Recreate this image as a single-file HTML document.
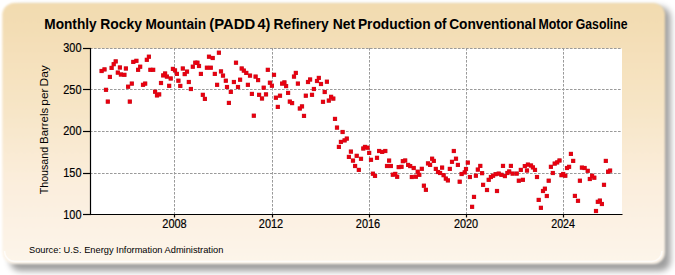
<!DOCTYPE html>
<html><head><meta charset="utf-8"><style>
html,body{margin:0;padding:0;background:#fff;}
body{width:675px;height:275px;position:relative;overflow:hidden;}
svg{position:absolute;left:0;top:0;}
text{font-family:"Liberation Sans",sans-serif;fill:#000;}
</style></head><body>
<svg width="675" height="275" viewBox="0 0 675 275">
<defs><filter id="f1" x="-10%" y="-10%" width="120%" height="120%"><feGaussianBlur stdDeviation="3.2"/></filter>
<filter id="f2" x="-10%" y="-10%" width="120%" height="120%"><feGaussianBlur stdDeviation="1"/></filter>
<filter id="f3" filterUnits="userSpaceOnUse" x="0" y="0" width="675" height="275"><feGaussianBlur stdDeviation="0.6"/></filter>
<linearGradient id="g" x1="0" y1="0" x2="0" y2="1"><stop offset="0" stop-color="#F2DBAF"/><stop offset="0.4" stop-color="#F7E5C6"/><stop offset="0.7" stop-color="#FBEEDD"/><stop offset="1" stop-color="#FDF5EA"/></linearGradient></defs>
<rect x="10" y="7" width="660.5" height="264" rx="10" fill="#000" fill-opacity="0.38" filter="url(#f1)"/>
<rect x="2.3" y="3" width="662.7" height="261" rx="12" fill="url(#g)" filter="url(#f2)"/>
<path d="M4.5 251 A10.5 10.5 0 0 0 15 261.5 H652 A10.5 10.5 0 0 0 662 251" fill="none" stroke="#fff" stroke-width="1.5" stroke-opacity="0.7" filter="url(#f3)"/>
<rect x="90.5" y="48.5" width="531.5" height="166" fill="#fff"/>
<g stroke="#9a9a9a" stroke-width="1" stroke-dasharray="2.6,1.4" fill="none"><line x1="90" y1="48.5" x2="622" y2="48.5"/><line x1="90" y1="89.5" x2="622" y2="89.5"/><line x1="90" y1="131.5" x2="622" y2="131.5"/><line x1="90" y1="173.5" x2="622" y2="173.5"/><line x1="174.5" y1="48" x2="174.5" y2="214"/><line x1="272.5" y1="48" x2="272.5" y2="214"/><line x1="369.5" y1="48" x2="369.5" y2="214"/><line x1="466.5" y1="48" x2="466.5" y2="214"/><line x1="563.5" y1="48" x2="563.5" y2="214"/></g>
<g fill="#B0000E" fill-opacity="0.85"><rect x="99.5" y="68.9" width="4.2" height="4.2"/><rect x="102.4" y="67.3" width="4.2" height="4.2"/><rect x="103.9" y="87.7" width="4.2" height="4.2"/><rect x="105.7" y="99.5" width="4.2" height="4.2"/><rect x="107.8" y="74.8" width="4.2" height="4.2"/><rect x="109.5" y="65.8" width="4.2" height="4.2"/><rect x="111.6" y="62.1" width="4.2" height="4.2"/><rect x="113.6" y="59.3" width="4.2" height="4.2"/><rect x="115.7" y="70.5" width="4.2" height="4.2"/><rect x="117.8" y="65.4" width="4.2" height="4.2"/><rect x="118.8" y="72.4" width="4.2" height="4.2"/><rect x="122.3" y="72.7" width="4.2" height="4.2"/><rect x="123.8" y="66.4" width="4.2" height="4.2"/><rect x="126.0" y="84.6" width="4.2" height="4.2"/><rect x="127.7" y="99.5" width="4.2" height="4.2"/><rect x="129.7" y="81.5" width="4.2" height="4.2"/><rect x="131.2" y="59.8" width="4.2" height="4.2"/><rect x="134.3" y="58.7" width="4.2" height="4.2"/><rect x="136.0" y="67.7" width="4.2" height="4.2"/><rect x="138.1" y="64.6" width="4.2" height="4.2"/><rect x="140.9" y="82.7" width="4.2" height="4.2"/><rect x="143.1" y="81.5" width="4.2" height="4.2"/><rect x="144.7" y="57.7" width="4.2" height="4.2"/><rect x="146.8" y="54.6" width="4.2" height="4.2"/><rect x="148.3" y="67.7" width="4.2" height="4.2"/><rect x="151.1" y="67.7" width="4.2" height="4.2"/><rect x="153.0" y="89.6" width="4.2" height="4.2"/><rect x="154.9" y="93.3" width="4.2" height="4.2"/><rect x="157.1" y="92.3" width="4.2" height="4.2"/><rect x="158.9" y="80.9" width="4.2" height="4.2"/><rect x="161.1" y="73.3" width="4.2" height="4.2"/><rect x="163.0" y="71.4" width="4.2" height="4.2"/><rect x="164.8" y="74.5" width="4.2" height="4.2"/><rect x="167.1" y="83.7" width="4.2" height="4.2"/><rect x="168.6" y="76.4" width="4.2" height="4.2"/><rect x="170.8" y="66.8" width="4.2" height="4.2"/><rect x="172.9" y="68.3" width="4.2" height="4.2"/><rect x="174.8" y="71.8" width="4.2" height="4.2"/><rect x="176.3" y="78.6" width="4.2" height="4.2"/><rect x="178.2" y="83.8" width="4.2" height="4.2"/><rect x="180.7" y="66.4" width="4.2" height="4.2"/><rect x="182.6" y="72.0" width="4.2" height="4.2"/><rect x="184.9" y="69.5" width="4.2" height="4.2"/><rect x="186.7" y="79.9" width="4.2" height="4.2"/><rect x="188.8" y="86.9" width="4.2" height="4.2"/><rect x="190.7" y="64.6" width="4.2" height="4.2"/><rect x="193.2" y="60.6" width="4.2" height="4.2"/><rect x="195.3" y="60.6" width="4.2" height="4.2"/><rect x="196.9" y="63.9" width="4.2" height="4.2"/><rect x="198.8" y="71.8" width="4.2" height="4.2"/><rect x="200.7" y="92.7" width="4.2" height="4.2"/><rect x="202.8" y="96.8" width="4.2" height="4.2"/><rect x="204.8" y="65.6" width="4.2" height="4.2"/><rect x="206.9" y="54.6" width="4.2" height="4.2"/><rect x="208.7" y="65.6" width="4.2" height="4.2"/><rect x="210.6" y="55.9" width="4.2" height="4.2"/><rect x="212.7" y="71.8" width="4.2" height="4.2"/><rect x="215.0" y="82.7" width="4.2" height="4.2"/><rect x="216.8" y="50.6" width="4.2" height="4.2"/><rect x="218.9" y="69.3" width="4.2" height="4.2"/><rect x="220.9" y="73.5" width="4.2" height="4.2"/><rect x="223.7" y="78.6" width="4.2" height="4.2"/><rect x="224.9" y="84.9" width="4.2" height="4.2"/><rect x="226.8" y="100.8" width="4.2" height="4.2"/><rect x="228.7" y="89.8" width="4.2" height="4.2"/><rect x="231.8" y="79.9" width="4.2" height="4.2"/><rect x="233.9" y="60.6" width="4.2" height="4.2"/><rect x="235.9" y="84.9" width="4.2" height="4.2"/><rect x="238.0" y="77.6" width="4.2" height="4.2"/><rect x="239.6" y="66.4" width="4.2" height="4.2"/><rect x="241.7" y="68.5" width="4.2" height="4.2"/><rect x="244.2" y="70.8" width="4.2" height="4.2"/><rect x="245.8" y="82.7" width="4.2" height="4.2"/><rect x="247.9" y="73.5" width="4.2" height="4.2"/><rect x="249.8" y="91.8" width="4.2" height="4.2"/><rect x="251.7" y="113.6" width="4.2" height="4.2"/><rect x="253.5" y="74.5" width="4.2" height="4.2"/><rect x="256.0" y="78.0" width="4.2" height="4.2"/><rect x="257.0" y="92.7" width="4.2" height="4.2"/><rect x="259.9" y="96.4" width="4.2" height="4.2"/><rect x="261.6" y="85.6" width="4.2" height="4.2"/><rect x="263.9" y="92.3" width="4.2" height="4.2"/><rect x="265.7" y="67.7" width="4.2" height="4.2"/><rect x="267.8" y="80.6" width="4.2" height="4.2"/><rect x="269.8" y="83.6" width="4.2" height="4.2"/><rect x="271.9" y="72.7" width="4.2" height="4.2"/><rect x="273.8" y="95.6" width="4.2" height="4.2"/><rect x="275.7" y="104.8" width="4.2" height="4.2"/><rect x="277.9" y="93.6" width="4.2" height="4.2"/><rect x="280.0" y="81.5" width="4.2" height="4.2"/><rect x="282.3" y="80.3" width="4.2" height="4.2"/><rect x="284.0" y="84.0" width="4.2" height="4.2"/><rect x="286.0" y="90.8" width="4.2" height="4.2"/><rect x="287.7" y="99.5" width="4.2" height="4.2"/><rect x="290.0" y="101.0" width="4.2" height="4.2"/><rect x="291.9" y="74.5" width="4.2" height="4.2"/><rect x="293.7" y="70.8" width="4.2" height="4.2"/><rect x="295.8" y="81.5" width="4.2" height="4.2"/><rect x="297.7" y="106.4" width="4.2" height="4.2"/><rect x="299.9" y="104.3" width="4.2" height="4.2"/><rect x="301.9" y="113.8" width="4.2" height="4.2"/><rect x="303.7" y="93.6" width="4.2" height="4.2"/><rect x="305.9" y="79.9" width="4.2" height="4.2"/><rect x="308.0" y="77.4" width="4.2" height="4.2"/><rect x="309.9" y="92.7" width="4.2" height="4.2"/><rect x="311.8" y="86.9" width="4.2" height="4.2"/><rect x="314.9" y="78.9" width="4.2" height="4.2"/><rect x="316.7" y="75.8" width="4.2" height="4.2"/><rect x="318.9" y="81.9" width="4.2" height="4.2"/><rect x="320.9" y="99.7" width="4.2" height="4.2"/><rect x="322.6" y="89.9" width="4.2" height="4.2"/><rect x="324.8" y="79.6" width="4.2" height="4.2"/><rect x="326.7" y="98.5" width="4.2" height="4.2"/><rect x="329.0" y="94.7" width="4.2" height="4.2"/><rect x="331.2" y="96.5" width="4.2" height="4.2"/><rect x="332.9" y="116.8" width="4.2" height="4.2"/><rect x="334.9" y="125.5" width="4.2" height="4.2"/><rect x="336.8" y="144.8" width="4.2" height="4.2"/><rect x="338.8" y="139.8" width="4.2" height="4.2"/><rect x="340.5" y="129.9" width="4.2" height="4.2"/><rect x="342.5" y="138.3" width="4.2" height="4.2"/><rect x="344.7" y="136.5" width="4.2" height="4.2"/><rect x="346.8" y="154.8" width="4.2" height="4.2"/><rect x="348.8" y="149.5" width="4.2" height="4.2"/><rect x="350.9" y="158.5" width="4.2" height="4.2"/><rect x="353.0" y="163.9" width="4.2" height="4.2"/><rect x="354.6" y="153.7" width="4.2" height="4.2"/><rect x="356.7" y="167.8" width="4.2" height="4.2"/><rect x="358.9" y="156.7" width="4.2" height="4.2"/><rect x="361.2" y="146.4" width="4.2" height="4.2"/><rect x="362.9" y="144.8" width="4.2" height="4.2"/><rect x="365.4" y="145.6" width="4.2" height="4.2"/><rect x="367.1" y="150.8" width="4.2" height="4.2"/><rect x="368.9" y="157.7" width="4.2" height="4.2"/><rect x="370.8" y="171.6" width="4.2" height="4.2"/><rect x="372.9" y="173.8" width="4.2" height="4.2"/><rect x="374.9" y="155.7" width="4.2" height="4.2"/><rect x="377.0" y="148.9" width="4.2" height="4.2"/><rect x="380.1" y="149.8" width="4.2" height="4.2"/><rect x="383.2" y="148.9" width="4.2" height="4.2"/><rect x="384.9" y="163.9" width="4.2" height="4.2"/><rect x="387.0" y="158.5" width="4.2" height="4.2"/><rect x="388.8" y="163.9" width="4.2" height="4.2"/><rect x="390.7" y="172.6" width="4.2" height="4.2"/><rect x="393.2" y="171.8" width="4.2" height="4.2"/><rect x="395.1" y="174.7" width="4.2" height="4.2"/><rect x="396.6" y="165.0" width="4.2" height="4.2"/><rect x="399.4" y="164.7" width="4.2" height="4.2"/><rect x="400.7" y="159.1" width="4.2" height="4.2"/><rect x="403.1" y="158.4" width="4.2" height="4.2"/><rect x="406.0" y="162.8" width="4.2" height="4.2"/><rect x="408.1" y="164.0" width="4.2" height="4.2"/><rect x="409.7" y="174.9" width="4.2" height="4.2"/><rect x="411.6" y="165.9" width="4.2" height="4.2"/><rect x="413.8" y="174.6" width="4.2" height="4.2"/><rect x="415.6" y="169.6" width="4.2" height="4.2"/><rect x="417.2" y="172.7" width="4.2" height="4.2"/><rect x="419.7" y="166.7" width="4.2" height="4.2"/><rect x="421.8" y="183.6" width="4.2" height="4.2"/><rect x="423.8" y="187.7" width="4.2" height="4.2"/><rect x="425.9" y="161.3" width="4.2" height="4.2"/><rect x="428.0" y="162.8" width="4.2" height="4.2"/><rect x="430.0" y="156.6" width="4.2" height="4.2"/><rect x="431.7" y="158.8" width="4.2" height="4.2"/><rect x="433.7" y="166.8" width="4.2" height="4.2"/><rect x="435.9" y="169.9" width="4.2" height="4.2"/><rect x="438.0" y="170.9" width="4.2" height="4.2"/><rect x="440.0" y="165.5" width="4.2" height="4.2"/><rect x="441.5" y="173.1" width="4.2" height="4.2"/><rect x="443.7" y="176.5" width="4.2" height="4.2"/><rect x="445.8" y="178.3" width="4.2" height="4.2"/><rect x="447.7" y="166.8" width="4.2" height="4.2"/><rect x="449.9" y="159.7" width="4.2" height="4.2"/><rect x="451.7" y="148.9" width="4.2" height="4.2"/><rect x="453.9" y="156.6" width="4.2" height="4.2"/><rect x="455.8" y="162.8" width="4.2" height="4.2"/><rect x="457.6" y="179.6" width="4.2" height="4.2"/><rect x="459.5" y="171.9" width="4.2" height="4.2"/><rect x="462.6" y="170.3" width="4.2" height="4.2"/><rect x="463.9" y="166.9" width="4.2" height="4.2"/><rect x="465.7" y="160.5" width="4.2" height="4.2"/><rect x="467.8" y="174.9" width="4.2" height="4.2"/><rect x="470.0" y="204.7" width="4.2" height="4.2"/><rect x="471.9" y="194.8" width="4.2" height="4.2"/><rect x="473.8" y="173.6" width="4.2" height="4.2"/><rect x="475.7" y="167.5" width="4.2" height="4.2"/><rect x="478.2" y="163.8" width="4.2" height="4.2"/><rect x="480.0" y="171.1" width="4.2" height="4.2"/><rect x="481.0" y="182.7" width="4.2" height="4.2"/><rect x="484.9" y="187.9" width="4.2" height="4.2"/><rect x="486.6" y="177.7" width="4.2" height="4.2"/><rect x="488.8" y="174.9" width="4.2" height="4.2"/><rect x="491.0" y="173.6" width="4.2" height="4.2"/><rect x="493.5" y="172.1" width="4.2" height="4.2"/><rect x="494.9" y="188.9" width="4.2" height="4.2"/><rect x="496.6" y="171.5" width="4.2" height="4.2"/><rect x="499.3" y="172.7" width="4.2" height="4.2"/><rect x="500.9" y="163.8" width="4.2" height="4.2"/><rect x="502.8" y="174.0" width="4.2" height="4.2"/><rect x="505.3" y="170.9" width="4.2" height="4.2"/><rect x="507.1" y="169.4" width="4.2" height="4.2"/><rect x="508.8" y="163.8" width="4.2" height="4.2"/><rect x="510.5" y="171.5" width="4.2" height="4.2"/><rect x="514.6" y="171.5" width="4.2" height="4.2"/><rect x="516.7" y="178.6" width="4.2" height="4.2"/><rect x="518.7" y="167.8" width="4.2" height="4.2"/><rect x="520.8" y="177.7" width="4.2" height="4.2"/><rect x="522.7" y="164.0" width="4.2" height="4.2"/><rect x="524.9" y="168.4" width="4.2" height="4.2"/><rect x="525.8" y="162.5" width="4.2" height="4.2"/><rect x="528.9" y="163.4" width="4.2" height="4.2"/><rect x="530.8" y="165.3" width="4.2" height="4.2"/><rect x="532.9" y="167.8" width="4.2" height="4.2"/><rect x="534.9" y="174.9" width="4.2" height="4.2"/><rect x="536.6" y="197.8" width="4.2" height="4.2"/><rect x="538.8" y="205.7" width="4.2" height="4.2"/><rect x="540.9" y="188.9" width="4.2" height="4.2"/><rect x="542.8" y="186.6" width="4.2" height="4.2"/><rect x="544.7" y="193.9" width="4.2" height="4.2"/><rect x="546.6" y="178.6" width="4.2" height="4.2"/><rect x="548.8" y="164.7" width="4.2" height="4.2"/><rect x="550.7" y="170.9" width="4.2" height="4.2"/><rect x="552.6" y="161.5" width="4.2" height="4.2"/><rect x="555.1" y="160.3" width="4.2" height="4.2"/><rect x="557.4" y="158.4" width="4.2" height="4.2"/><rect x="559.4" y="173.1" width="4.2" height="4.2"/><rect x="561.1" y="171.9" width="4.2" height="4.2"/><rect x="563.2" y="173.6" width="4.2" height="4.2"/><rect x="564.9" y="165.9" width="4.2" height="4.2"/><rect x="567.0" y="164.7" width="4.2" height="4.2"/><rect x="568.8" y="151.8" width="4.2" height="4.2"/><rect x="571.1" y="158.8" width="4.2" height="4.2"/><rect x="572.8" y="193.8" width="4.2" height="4.2"/><rect x="575.9" y="198.7" width="4.2" height="4.2"/><rect x="577.8" y="178.6" width="4.2" height="4.2"/><rect x="579.8" y="165.5" width="4.2" height="4.2"/><rect x="582.5" y="165.9" width="4.2" height="4.2"/><rect x="585.6" y="168.7" width="4.2" height="4.2"/><rect x="587.7" y="176.9" width="4.2" height="4.2"/><rect x="590.0" y="173.6" width="4.2" height="4.2"/><rect x="592.2" y="175.6" width="4.2" height="4.2"/><rect x="593.9" y="208.9" width="4.2" height="4.2"/><rect x="595.7" y="199.7" width="4.2" height="4.2"/><rect x="597.8" y="198.5" width="4.2" height="4.2"/><rect x="599.8" y="201.9" width="4.2" height="4.2"/><rect x="601.9" y="182.7" width="4.2" height="4.2"/><rect x="603.7" y="158.8" width="4.2" height="4.2"/><rect x="606.0" y="169.6" width="4.2" height="4.2"/><rect x="608.0" y="168.5" width="4.2" height="4.2"/></g><g fill="#E8000F"><rect x="99.8" y="69.2" width="3.6" height="3.6"/><rect x="102.7" y="67.6" width="3.6" height="3.6"/><rect x="104.2" y="88.0" width="3.6" height="3.6"/><rect x="106.0" y="99.8" width="3.6" height="3.6"/><rect x="108.1" y="75.1" width="3.6" height="3.6"/><rect x="109.8" y="66.1" width="3.6" height="3.6"/><rect x="111.9" y="62.4" width="3.6" height="3.6"/><rect x="113.9" y="59.6" width="3.6" height="3.6"/><rect x="116.0" y="70.8" width="3.6" height="3.6"/><rect x="118.1" y="65.7" width="3.6" height="3.6"/><rect x="119.1" y="72.7" width="3.6" height="3.6"/><rect x="122.6" y="73.0" width="3.6" height="3.6"/><rect x="124.1" y="66.7" width="3.6" height="3.6"/><rect x="126.3" y="84.9" width="3.6" height="3.6"/><rect x="128.0" y="99.8" width="3.6" height="3.6"/><rect x="130.0" y="81.8" width="3.6" height="3.6"/><rect x="131.5" y="60.1" width="3.6" height="3.6"/><rect x="134.6" y="59.0" width="3.6" height="3.6"/><rect x="136.3" y="68.0" width="3.6" height="3.6"/><rect x="138.4" y="64.9" width="3.6" height="3.6"/><rect x="141.2" y="83.0" width="3.6" height="3.6"/><rect x="143.4" y="81.8" width="3.6" height="3.6"/><rect x="145.0" y="58.0" width="3.6" height="3.6"/><rect x="147.1" y="54.9" width="3.6" height="3.6"/><rect x="148.6" y="68.0" width="3.6" height="3.6"/><rect x="151.4" y="68.0" width="3.6" height="3.6"/><rect x="153.3" y="89.9" width="3.6" height="3.6"/><rect x="155.2" y="93.6" width="3.6" height="3.6"/><rect x="157.4" y="92.6" width="3.6" height="3.6"/><rect x="159.2" y="81.2" width="3.6" height="3.6"/><rect x="161.4" y="73.6" width="3.6" height="3.6"/><rect x="163.3" y="71.7" width="3.6" height="3.6"/><rect x="165.1" y="74.8" width="3.6" height="3.6"/><rect x="167.4" y="84.0" width="3.6" height="3.6"/><rect x="168.9" y="76.7" width="3.6" height="3.6"/><rect x="171.1" y="67.1" width="3.6" height="3.6"/><rect x="173.2" y="68.6" width="3.6" height="3.6"/><rect x="175.1" y="72.1" width="3.6" height="3.6"/><rect x="176.6" y="78.9" width="3.6" height="3.6"/><rect x="178.5" y="84.1" width="3.6" height="3.6"/><rect x="181.0" y="66.7" width="3.6" height="3.6"/><rect x="182.9" y="72.3" width="3.6" height="3.6"/><rect x="185.2" y="69.8" width="3.6" height="3.6"/><rect x="187.0" y="80.2" width="3.6" height="3.6"/><rect x="189.1" y="87.2" width="3.6" height="3.6"/><rect x="191.0" y="64.9" width="3.6" height="3.6"/><rect x="193.5" y="60.9" width="3.6" height="3.6"/><rect x="195.6" y="60.9" width="3.6" height="3.6"/><rect x="197.2" y="64.2" width="3.6" height="3.6"/><rect x="199.1" y="72.1" width="3.6" height="3.6"/><rect x="201.0" y="93.0" width="3.6" height="3.6"/><rect x="203.1" y="97.1" width="3.6" height="3.6"/><rect x="205.1" y="65.9" width="3.6" height="3.6"/><rect x="207.2" y="54.9" width="3.6" height="3.6"/><rect x="209.0" y="65.9" width="3.6" height="3.6"/><rect x="210.9" y="56.2" width="3.6" height="3.6"/><rect x="213.0" y="72.1" width="3.6" height="3.6"/><rect x="215.3" y="83.0" width="3.6" height="3.6"/><rect x="217.1" y="50.9" width="3.6" height="3.6"/><rect x="219.2" y="69.6" width="3.6" height="3.6"/><rect x="221.2" y="73.8" width="3.6" height="3.6"/><rect x="224.0" y="78.9" width="3.6" height="3.6"/><rect x="225.2" y="85.2" width="3.6" height="3.6"/><rect x="227.1" y="101.1" width="3.6" height="3.6"/><rect x="229.0" y="90.1" width="3.6" height="3.6"/><rect x="232.1" y="80.2" width="3.6" height="3.6"/><rect x="234.2" y="60.9" width="3.6" height="3.6"/><rect x="236.2" y="85.2" width="3.6" height="3.6"/><rect x="238.3" y="77.9" width="3.6" height="3.6"/><rect x="239.9" y="66.7" width="3.6" height="3.6"/><rect x="242.0" y="68.8" width="3.6" height="3.6"/><rect x="244.5" y="71.1" width="3.6" height="3.6"/><rect x="246.1" y="83.0" width="3.6" height="3.6"/><rect x="248.2" y="73.8" width="3.6" height="3.6"/><rect x="250.1" y="92.1" width="3.6" height="3.6"/><rect x="252.0" y="113.9" width="3.6" height="3.6"/><rect x="253.8" y="74.8" width="3.6" height="3.6"/><rect x="256.3" y="78.3" width="3.6" height="3.6"/><rect x="257.3" y="93.0" width="3.6" height="3.6"/><rect x="260.2" y="96.7" width="3.6" height="3.6"/><rect x="261.9" y="85.9" width="3.6" height="3.6"/><rect x="264.2" y="92.6" width="3.6" height="3.6"/><rect x="266.0" y="68.0" width="3.6" height="3.6"/><rect x="268.1" y="80.9" width="3.6" height="3.6"/><rect x="270.1" y="83.9" width="3.6" height="3.6"/><rect x="272.2" y="73.0" width="3.6" height="3.6"/><rect x="274.1" y="95.9" width="3.6" height="3.6"/><rect x="276.0" y="105.1" width="3.6" height="3.6"/><rect x="278.2" y="93.9" width="3.6" height="3.6"/><rect x="280.3" y="81.8" width="3.6" height="3.6"/><rect x="282.6" y="80.6" width="3.6" height="3.6"/><rect x="284.3" y="84.3" width="3.6" height="3.6"/><rect x="286.3" y="91.1" width="3.6" height="3.6"/><rect x="288.0" y="99.8" width="3.6" height="3.6"/><rect x="290.3" y="101.3" width="3.6" height="3.6"/><rect x="292.2" y="74.8" width="3.6" height="3.6"/><rect x="294.0" y="71.1" width="3.6" height="3.6"/><rect x="296.1" y="81.8" width="3.6" height="3.6"/><rect x="298.0" y="106.7" width="3.6" height="3.6"/><rect x="300.2" y="104.6" width="3.6" height="3.6"/><rect x="302.2" y="114.1" width="3.6" height="3.6"/><rect x="304.0" y="93.9" width="3.6" height="3.6"/><rect x="306.2" y="80.2" width="3.6" height="3.6"/><rect x="308.3" y="77.7" width="3.6" height="3.6"/><rect x="310.2" y="93.0" width="3.6" height="3.6"/><rect x="312.1" y="87.2" width="3.6" height="3.6"/><rect x="315.2" y="79.2" width="3.6" height="3.6"/><rect x="317.0" y="76.1" width="3.6" height="3.6"/><rect x="319.2" y="82.2" width="3.6" height="3.6"/><rect x="321.2" y="100.0" width="3.6" height="3.6"/><rect x="322.9" y="90.2" width="3.6" height="3.6"/><rect x="325.1" y="79.9" width="3.6" height="3.6"/><rect x="327.0" y="98.8" width="3.6" height="3.6"/><rect x="329.3" y="95.0" width="3.6" height="3.6"/><rect x="331.5" y="96.8" width="3.6" height="3.6"/><rect x="333.2" y="117.1" width="3.6" height="3.6"/><rect x="335.2" y="125.8" width="3.6" height="3.6"/><rect x="337.1" y="145.1" width="3.6" height="3.6"/><rect x="339.1" y="140.1" width="3.6" height="3.6"/><rect x="340.8" y="130.2" width="3.6" height="3.6"/><rect x="342.8" y="138.6" width="3.6" height="3.6"/><rect x="345.0" y="136.8" width="3.6" height="3.6"/><rect x="347.1" y="155.1" width="3.6" height="3.6"/><rect x="349.1" y="149.8" width="3.6" height="3.6"/><rect x="351.2" y="158.8" width="3.6" height="3.6"/><rect x="353.3" y="164.2" width="3.6" height="3.6"/><rect x="354.9" y="154.0" width="3.6" height="3.6"/><rect x="357.0" y="168.1" width="3.6" height="3.6"/><rect x="359.2" y="157.0" width="3.6" height="3.6"/><rect x="361.5" y="146.7" width="3.6" height="3.6"/><rect x="363.2" y="145.1" width="3.6" height="3.6"/><rect x="365.7" y="145.9" width="3.6" height="3.6"/><rect x="367.4" y="151.1" width="3.6" height="3.6"/><rect x="369.2" y="158.0" width="3.6" height="3.6"/><rect x="371.1" y="171.9" width="3.6" height="3.6"/><rect x="373.2" y="174.1" width="3.6" height="3.6"/><rect x="375.2" y="156.0" width="3.6" height="3.6"/><rect x="377.3" y="149.2" width="3.6" height="3.6"/><rect x="380.4" y="150.1" width="3.6" height="3.6"/><rect x="383.5" y="149.2" width="3.6" height="3.6"/><rect x="385.2" y="164.2" width="3.6" height="3.6"/><rect x="387.3" y="158.8" width="3.6" height="3.6"/><rect x="389.1" y="164.2" width="3.6" height="3.6"/><rect x="391.0" y="172.9" width="3.6" height="3.6"/><rect x="393.5" y="172.1" width="3.6" height="3.6"/><rect x="395.4" y="175.0" width="3.6" height="3.6"/><rect x="396.9" y="165.3" width="3.6" height="3.6"/><rect x="399.7" y="165.0" width="3.6" height="3.6"/><rect x="401.0" y="159.4" width="3.6" height="3.6"/><rect x="403.4" y="158.7" width="3.6" height="3.6"/><rect x="406.3" y="163.1" width="3.6" height="3.6"/><rect x="408.4" y="164.3" width="3.6" height="3.6"/><rect x="410.0" y="175.2" width="3.6" height="3.6"/><rect x="411.9" y="166.2" width="3.6" height="3.6"/><rect x="414.1" y="174.9" width="3.6" height="3.6"/><rect x="415.9" y="169.9" width="3.6" height="3.6"/><rect x="417.5" y="173.0" width="3.6" height="3.6"/><rect x="420.0" y="167.0" width="3.6" height="3.6"/><rect x="422.1" y="183.9" width="3.6" height="3.6"/><rect x="424.1" y="188.0" width="3.6" height="3.6"/><rect x="426.2" y="161.6" width="3.6" height="3.6"/><rect x="428.3" y="163.1" width="3.6" height="3.6"/><rect x="430.3" y="156.9" width="3.6" height="3.6"/><rect x="432.0" y="159.1" width="3.6" height="3.6"/><rect x="434.0" y="167.1" width="3.6" height="3.6"/><rect x="436.2" y="170.2" width="3.6" height="3.6"/><rect x="438.3" y="171.2" width="3.6" height="3.6"/><rect x="440.3" y="165.8" width="3.6" height="3.6"/><rect x="441.8" y="173.4" width="3.6" height="3.6"/><rect x="444.0" y="176.8" width="3.6" height="3.6"/><rect x="446.1" y="178.6" width="3.6" height="3.6"/><rect x="448.0" y="167.1" width="3.6" height="3.6"/><rect x="450.2" y="160.0" width="3.6" height="3.6"/><rect x="452.0" y="149.2" width="3.6" height="3.6"/><rect x="454.2" y="156.9" width="3.6" height="3.6"/><rect x="456.1" y="163.1" width="3.6" height="3.6"/><rect x="457.9" y="179.9" width="3.6" height="3.6"/><rect x="459.8" y="172.2" width="3.6" height="3.6"/><rect x="462.9" y="170.6" width="3.6" height="3.6"/><rect x="464.2" y="167.2" width="3.6" height="3.6"/><rect x="466.0" y="160.8" width="3.6" height="3.6"/><rect x="468.1" y="175.2" width="3.6" height="3.6"/><rect x="470.3" y="205.0" width="3.6" height="3.6"/><rect x="472.2" y="195.1" width="3.6" height="3.6"/><rect x="474.1" y="173.9" width="3.6" height="3.6"/><rect x="476.0" y="167.8" width="3.6" height="3.6"/><rect x="478.5" y="164.1" width="3.6" height="3.6"/><rect x="480.3" y="171.4" width="3.6" height="3.6"/><rect x="481.3" y="183.0" width="3.6" height="3.6"/><rect x="485.2" y="188.2" width="3.6" height="3.6"/><rect x="486.9" y="178.0" width="3.6" height="3.6"/><rect x="489.1" y="175.2" width="3.6" height="3.6"/><rect x="491.3" y="173.9" width="3.6" height="3.6"/><rect x="493.8" y="172.4" width="3.6" height="3.6"/><rect x="495.2" y="189.2" width="3.6" height="3.6"/><rect x="496.9" y="171.8" width="3.6" height="3.6"/><rect x="499.6" y="173.0" width="3.6" height="3.6"/><rect x="501.2" y="164.1" width="3.6" height="3.6"/><rect x="503.1" y="174.3" width="3.6" height="3.6"/><rect x="505.6" y="171.2" width="3.6" height="3.6"/><rect x="507.4" y="169.7" width="3.6" height="3.6"/><rect x="509.1" y="164.1" width="3.6" height="3.6"/><rect x="510.8" y="171.8" width="3.6" height="3.6"/><rect x="514.9" y="171.8" width="3.6" height="3.6"/><rect x="517.0" y="178.9" width="3.6" height="3.6"/><rect x="519.0" y="168.1" width="3.6" height="3.6"/><rect x="521.1" y="178.0" width="3.6" height="3.6"/><rect x="523.0" y="164.3" width="3.6" height="3.6"/><rect x="525.2" y="168.7" width="3.6" height="3.6"/><rect x="526.1" y="162.8" width="3.6" height="3.6"/><rect x="529.2" y="163.7" width="3.6" height="3.6"/><rect x="531.1" y="165.6" width="3.6" height="3.6"/><rect x="533.2" y="168.1" width="3.6" height="3.6"/><rect x="535.2" y="175.2" width="3.6" height="3.6"/><rect x="536.9" y="198.1" width="3.6" height="3.6"/><rect x="539.1" y="206.0" width="3.6" height="3.6"/><rect x="541.2" y="189.2" width="3.6" height="3.6"/><rect x="543.1" y="186.9" width="3.6" height="3.6"/><rect x="545.0" y="194.2" width="3.6" height="3.6"/><rect x="546.9" y="178.9" width="3.6" height="3.6"/><rect x="549.1" y="165.0" width="3.6" height="3.6"/><rect x="551.0" y="171.2" width="3.6" height="3.6"/><rect x="552.9" y="161.8" width="3.6" height="3.6"/><rect x="555.4" y="160.6" width="3.6" height="3.6"/><rect x="557.7" y="158.7" width="3.6" height="3.6"/><rect x="559.7" y="173.4" width="3.6" height="3.6"/><rect x="561.4" y="172.2" width="3.6" height="3.6"/><rect x="563.5" y="173.9" width="3.6" height="3.6"/><rect x="565.2" y="166.2" width="3.6" height="3.6"/><rect x="567.3" y="165.0" width="3.6" height="3.6"/><rect x="569.1" y="152.1" width="3.6" height="3.6"/><rect x="571.4" y="159.1" width="3.6" height="3.6"/><rect x="573.1" y="194.1" width="3.6" height="3.6"/><rect x="576.2" y="199.0" width="3.6" height="3.6"/><rect x="578.1" y="178.9" width="3.6" height="3.6"/><rect x="580.1" y="165.8" width="3.6" height="3.6"/><rect x="582.8" y="166.2" width="3.6" height="3.6"/><rect x="585.9" y="169.0" width="3.6" height="3.6"/><rect x="588.0" y="177.2" width="3.6" height="3.6"/><rect x="590.3" y="173.9" width="3.6" height="3.6"/><rect x="592.5" y="175.9" width="3.6" height="3.6"/><rect x="594.2" y="209.2" width="3.6" height="3.6"/><rect x="596.0" y="200.0" width="3.6" height="3.6"/><rect x="598.1" y="198.8" width="3.6" height="3.6"/><rect x="600.1" y="202.2" width="3.6" height="3.6"/><rect x="602.2" y="183.0" width="3.6" height="3.6"/><rect x="604.0" y="159.1" width="3.6" height="3.6"/><rect x="606.3" y="169.9" width="3.6" height="3.6"/><rect x="608.3" y="168.8" width="3.6" height="3.6"/></g>
<g stroke="#000" stroke-width="1.2" fill="none">
<line x1="90.5" y1="48" x2="90.5" y2="215"/>
<line x1="90" y1="214.5" x2="622.5" y2="214.5"/>
<line x1="83" y1="48.5" x2="91" y2="48.5"/><line x1="83" y1="89.5" x2="91" y2="89.5"/><line x1="83" y1="131.5" x2="91" y2="131.5"/><line x1="83" y1="173.5" x2="91" y2="173.5"/><line x1="83" y1="214.5" x2="91" y2="214.5"/><line x1="174.5" y1="214" x2="174.5" y2="217.5"/><line x1="272.5" y1="214" x2="272.5" y2="217.5"/><line x1="369.5" y1="214" x2="369.5" y2="217.5"/><line x1="466.5" y1="214" x2="466.5" y2="217.5"/><line x1="563.5" y1="214" x2="563.5" y2="217.5"/>
</g>
<g font-size="12.5" stroke="#000" stroke-width="0.2"><text x="81.5" y="52.4" text-anchor="end" textLength="18.2" lengthAdjust="spacingAndGlyphs">300</text><text x="81.5" y="94.4" text-anchor="end" textLength="18.2" lengthAdjust="spacingAndGlyphs">250</text><text x="81.5" y="135.4" text-anchor="end" textLength="18.2" lengthAdjust="spacingAndGlyphs">200</text><text x="81.5" y="177.4" text-anchor="end" textLength="18.2" lengthAdjust="spacingAndGlyphs">150</text><text x="81.5" y="219.4" text-anchor="end" textLength="18.2" lengthAdjust="spacingAndGlyphs">100</text><text x="174.5" y="227.9" text-anchor="middle" textLength="24.4" lengthAdjust="spacingAndGlyphs">2008</text><text x="271.0" y="227.9" text-anchor="middle" textLength="24.4" lengthAdjust="spacingAndGlyphs">2012</text><text x="368.0" y="227.9" text-anchor="middle" textLength="24.4" lengthAdjust="spacingAndGlyphs">2016</text><text x="466.0" y="227.9" text-anchor="middle" textLength="24.2" lengthAdjust="spacingAndGlyphs">2020</text><text x="563.1" y="227.9" text-anchor="middle" textLength="23.8" lengthAdjust="spacingAndGlyphs">2024</text></g>
<g font-weight="bold" font-size="13.8"><text y="28.9" x="44.31" textLength="52.38" lengthAdjust="spacingAndGlyphs">Monthly</text><text y="28.9" x="100.29" textLength="41.84" lengthAdjust="spacingAndGlyphs">Rocky</text><text y="28.9" x="145.41" textLength="60.80" lengthAdjust="spacingAndGlyphs">Mountain</text><text y="28.9" x="209.35" textLength="45.91" lengthAdjust="spacingAndGlyphs">(PADD</text><text y="28.9" x="257.52" textLength="12.91" lengthAdjust="spacingAndGlyphs">4)</text><text y="28.9" x="273.50" textLength="55.32" lengthAdjust="spacingAndGlyphs">Refinery</text><text y="28.9" x="332.69" textLength="22.45" lengthAdjust="spacingAndGlyphs">Net</text><text y="28.9" x="357.90" textLength="72.71" lengthAdjust="spacingAndGlyphs">Production</text><text y="28.9" x="433.92" textLength="12.59" lengthAdjust="spacingAndGlyphs">of</text><text y="28.9" x="449.20" textLength="86.88" lengthAdjust="spacingAndGlyphs">Conventional</text><text y="28.9" x="538.46" textLength="34.36" lengthAdjust="spacingAndGlyphs">Motor</text><text y="28.9" x="575.77" textLength="51.71" lengthAdjust="spacingAndGlyphs">Gasoline</text></g>
<g transform="translate(47.5,0) rotate(-90)" font-size="11.5"><text x="-194.23" y="0" textLength="47.33" lengthAdjust="spacingAndGlyphs">Thousand</text><text x="-143.89" y="0" textLength="36.02" lengthAdjust="spacingAndGlyphs">Barrels</text><text x="-105.72" y="0" textLength="17.19" lengthAdjust="spacingAndGlyphs">per</text><text x="-86.42" y="0" textLength="21.21" lengthAdjust="spacingAndGlyphs">Day</text></g>
<text x="29" y="252.8" font-size="9.8" textLength="194.3" lengthAdjust="spacingAndGlyphs">Source: U.S. Energy Information Administration</text>
</svg>
</body></html>
